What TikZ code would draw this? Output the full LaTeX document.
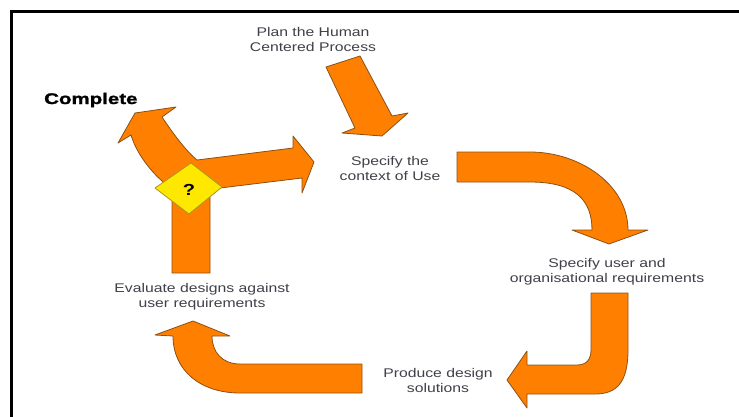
\documentclass[tikz,border=0pt]{standalone}
\usepackage{fontspec}
\setmainfont{Liberation Sans}[FakeStretch=1.25]
\newfontfamily\cmpfont{Liberation Sans}[FakeStretch=1.33,BoldFeatures={FakeBold=1.6}]
\definecolor{orfill}{RGB}{255,128,0}
\definecolor{oredge}{RGB}{140,80,20}
\definecolor{yfill}{RGB}{255,232,0}
\definecolor{yedge}{RGB}{170,150,30}
\definecolor{lblgray}{RGB}{64,64,74}
\begin{document}
\begin{tikzpicture}[x=1pt,y=-1pt,
  blockarrow/.style={fill=orfill,draw=oredge,line width=0.8pt,line join=round},
  decision/.style={fill=yfill,draw=yedge,line width=0.8pt,line join=round},
  lbl/.style={font=\fontsize{12.6}{15}\selectfont,text=lblgray,align=center,inner sep=0pt,anchor=north},
  frame/.style={draw=black,line width=2.4pt}]
\useasboundingbox (0,0) rectangle (739,416);
\clip (0,0) rectangle (739,416);
% frame (only top and left edges visible)
\draw[frame] (11.5,430) -- (11.5,11.5) -- (750,11.5);
% plan arrow
\path[blockarrow] (326,67) -- (360,56) -- (392,116) -- (408,113) -- (382,136) -- (342,133) -- (355,128) -- cycle;
% big curved arrow top right
\path[blockarrow] (457,152) -- (530,152) .. controls (580,152) and (628,185) .. (628,230) -- (648,230) -- (609,244) -- (572,230) -- (592,230) .. controls (592,200) and (575,182) .. (530,182) -- (457,182) -- cycle;
% produce arrow
\path[blockarrow] (591,293) -- (628,293) -- (628,350) .. controls (628,382) and (617,394) .. (595,394) -- (527,394) -- (527,408) -- (507,380) -- (527,351) -- (527,365) -- (577,365) .. controls (586,365) and (591,360) .. (591,350) -- cycle;
% bottom left arrow
\path[blockarrow] (362,364) -- (240,364) .. controls (222,364) and (212,352) .. (212,336) -- (230,336) -- (193,321) -- (155,335) -- (173,336) .. controls (173,370) and (200,393) .. (240,393) -- (362,393) -- cycle;
% decision three-way arrow
\path[blockarrow] (172,273) -- (172,200) -- (168,186) .. controls (150,172) and (136,152) .. (131,135) -- (118,143) -- (135,113) -- (176,107) -- (162,117) .. controls (172,132) and (185,150) .. (197,160) -- (293,148) -- (293,136) -- (314,162) -- (302,193) -- (302,178) -- (220,188) -- (210,195) -- (210,273) -- cycle;
\path[decision] (155,188) -- (191,163) -- (222,187) -- (189,214) -- cycle;
\node[font=\fontsize{16}{16}\selectfont\bfseries,inner sep=0pt] (q) at (189,190) {?};
% labels
\node[lbl] (plan) at (313,27) {Plan the Human\\Centered Process};
\node[lbl] (ctx) at (390,156) {Specify the\\context of Use};
\node[lbl] (req) at (607,258) {Specify user and\\organisational requirements};
\node[lbl] (prod) at (438,368) {Produce design\\solutions};
\node[lbl] (eval) at (202,283) {Evaluate designs against\\user requirements};
\node[font=\cmpfont\fontsize{15.4}{16}\selectfont\bfseries,inner sep=0pt,anchor=base west] (cmp) at (44,104) {Complete};
\end{tikzpicture}
\end{document}
